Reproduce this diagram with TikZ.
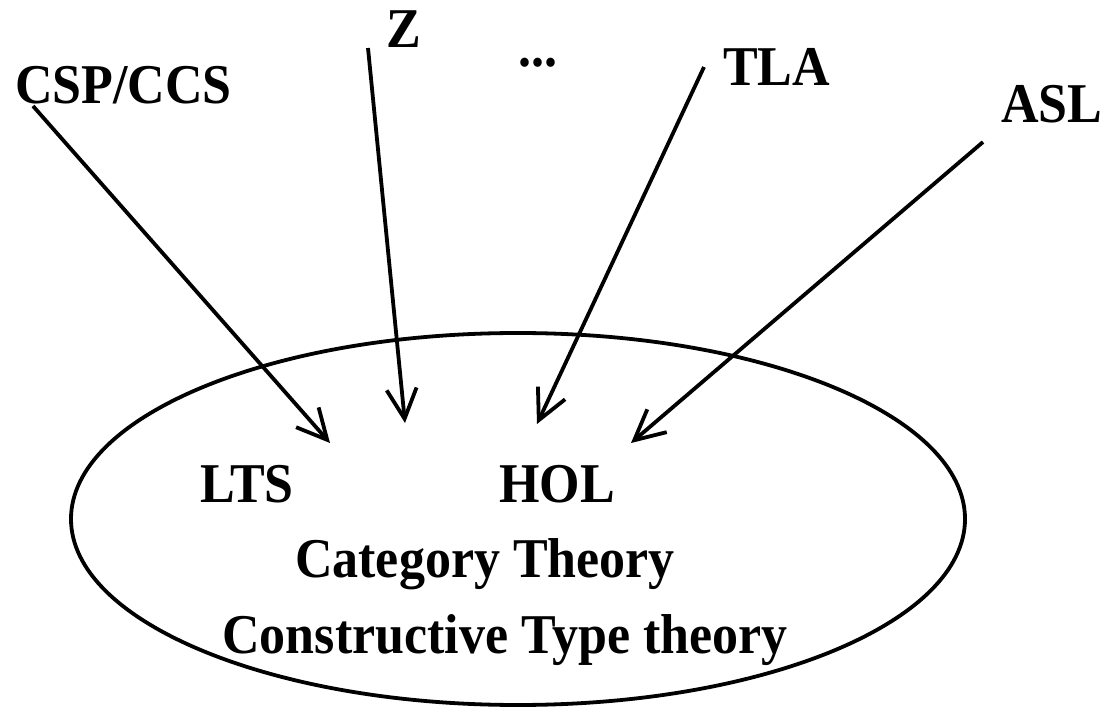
\documentclass[tikz,border=0pt]{standalone}
\usepackage{fontspec}
\setmainfont{Liberation Serif}
\usetikzlibrary{arrows.meta}
\newcommand\stretchtxt[1]{\scalebox{1}[1.08]{#1}}
\tikzset{
  lbl/.style={inner sep=0pt, font=\fontsize{52}{56}\selectfont\bfseries},
  arr/.style={line width=3.8pt, -{Straight Barb[length=30pt,width=30pt,line width=3.8pt]}},
  ring/.style={line width=3.8pt}
}
\begin{document}
\begin{tikzpicture}[x=1pt,y=-1pt]
\useasboundingbox (0,0) rectangle (1109,708);
% ellipse
\draw[ring] (518,519) ellipse [x radius=447, y radius=186];
% labels
\node[lbl, anchor=base west] (csp) at (15,104) {\stretchtxt{CSP/CCS}};
\node[lbl, anchor=base west] (z) at (386,48) {\stretchtxt{Z}};
\node[lbl, anchor=base west] (dots) at (518,67) {\stretchtxt{...}};
\node[lbl, anchor=base west] (tla) at (723,86) {\stretchtxt{TLA}};
\node[lbl, anchor=base west] (asl) at (1001,123) {\stretchtxt{ASL}};
\node[lbl, anchor=base west] (lts) at (200,502) {\stretchtxt{LTS}};
\node[lbl, anchor=base west] (hol) at (499,502) {\stretchtxt{HOL}};
\node[lbl, anchor=base] (cat) at (485,577) {\stretchtxt{Category Theory}};
\node[lbl, anchor=base] (ctt) at (505,653) {\stretchtxt{Constructive Type theory}};
% arrow end points
\coordinate (cspS) at (33,106);
\coordinate (cspE) at (330,443);
\coordinate (zS) at (368,48);
\coordinate (zE) at (405,423);
\coordinate (tlaS) at (704,67);
\coordinate (tlaE) at (537,424);
\coordinate (aslS) at (983,142);
\coordinate (aslE) at (631,443);
\draw[arr] (cspS) -- (cspE);
\draw[arr] (zS) -- (zE);
\draw[arr] (tlaS) -- (tlaE);
\draw[arr] (aslS) -- (aslE);
\end{tikzpicture}
\end{document}
